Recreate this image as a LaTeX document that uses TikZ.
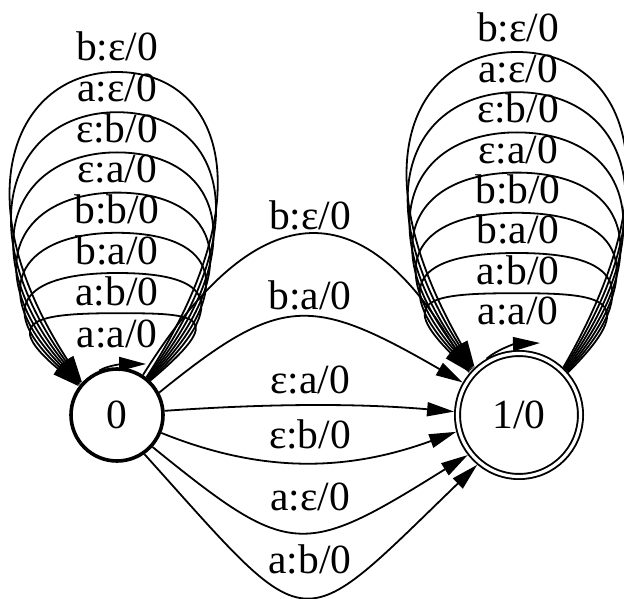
\documentclass[tikz,border=0pt]{standalone}
\usepackage{fontspec}
\setmainfont{Liberation Serif}
\usetikzlibrary{arrows.meta,calc}
\begin{document}
\begin{tikzpicture}[x=1pt,y=1pt,
  lbl/.style={font=\fontsize{41.5}{41.5}\selectfont, inner sep=0pt, anchor=base},
  edge/.style={line width=1.8pt, -{Triangle[length=27pt,width=14pt]}},
  state/.style={circle, draw, inner sep=0pt, font=\fontsize{41.5}{41.5}\selectfont},
]
\useasboundingbox (0,0) rectangle (624,598);
\node[state, line width=3.6pt, minimum size=92pt] (n0) at (117,183) {0};
\node[state, double, line width=1.9pt, double distance=3.2pt, minimum size=123pt, outer sep=3.5pt] (n1) at (519,183) {1/0};

% self loops on 0
\foreach \k in {1,...,7}{
  \pgfmathsetmacro\T{526-40.2*(\k-1)}
  \pgfmathsetmacro\th{57-17/6*(\k-1)}
  \pgfmathsetmacro\d{222-20*(\k-1)}
  \pgfmathsetmacro\w{102-20/6*(\k-1)}
  \pgfmathtruncatemacro\sa{53-\k}
  \pgfmathtruncatemacro\ea{136+\k}
  \draw[edge] (n0.\sa) .. controls +(\th:\d) and ({117+\w},\T) .. (117,\T)
     .. controls ({117-\w},\T) and ($(n0.\ea)+({180-\th}:\d)$) .. (n0.\ea);
}
\coordinate (t0) at (146,234);
\draw[edge] (n0.112) .. controls (108,233) and (125,234) .. (t0);

% self loops on 1/0
\foreach \k in {1,...,7}{
  \pgfmathsetmacro\T{546-40.2*(\k-1)}
  \pgfmathsetmacro\th{60-15/6*(\k-1)}
  \pgfmathsetmacro\d{234-130/6*(\k-1)}
  \pgfmathsetmacro\w{102-15/6*(\k-1)}
  \pgfmathtruncatemacro\sa{48-\k}
  \pgfmathtruncatemacro\ea{132+\k}
  \draw[edge] (n1.\sa) .. controls +(\th:\d) and ({517+\w},\T) .. (517,\T)
     .. controls ({517-\w},\T) and ($(n1.\ea)+({180-\th}:\d)$) .. (n1.\ea);
}
\coordinate (t1) at (540,255);
\draw[edge] (n1.120) .. controls (498,249) and (515,254) .. (t1);

% edges 0 -> 1/0
\draw[edge] (n0.57) .. controls +(58:225) and +(120:205) .. (n1.140);
\draw[edge] (n0.28) .. controls +(39:156) and +(150:176) .. (n1.150);
\draw[edge] (n0.5) .. controls +(4:100) and +(175:100) .. (n1.177);
\draw[edge] (n0.338) .. controls +(-22:107) and +(200:118) .. (n1.195);
\draw[edge] (n0.318) .. controls +(-39:177) and +(212:196) .. (n1.218);
\draw[edge] (n0.305) .. controls +(-48:253) and +(224:254) .. (n1.230);

% labels of loops on 0
\node[lbl] (l1) at (117,537) {b:ε/0};
\node[lbl] (l2) at (117,496) {a:ε/0};
\node[lbl] (l3) at (117,455) {ε:b/0};
\node[lbl] (l4) at (117,415) {ε:a/0};
\node[lbl] (l5) at (117,374) {b:b/0};
\node[lbl] (l6) at (117,333) {b:a/0};
\node[lbl] (l7) at (117,292) {a:b/0};
\node[lbl] (l8) at (117,251) {a:a/0};

% labels of loops on 1/0
\node[lbl] (r1) at (518,556) {b:ε/0};
\node[lbl] (r2) at (518,515.6) {a:ε/0};
\node[lbl] (r3) at (518,475.2) {ε:b/0};
\node[lbl] (r4) at (518,434.8) {ε:a/0};
\node[lbl] (r5) at (518,394.4) {b:b/0};
\node[lbl] (r6) at (518,354) {b:a/0};
\node[lbl] (r7) at (518,313.6) {a:b/0};
\node[lbl] (r8) at (518,273.2) {a:a/0};

% labels of edges 0 -> 1/0
\node[lbl] (m1) at (310,368) {b:ε/0};
\node[lbl] (m2) at (310,288) {b:a/0};
\node[lbl] (m3) at (310,205) {ε:a/0};
\node[lbl] (m4) at (310,150) {ε:b/0};
\node[lbl] (m5) at (310,88) {a:ε/0};
\node[lbl] (m6) at (310,25) {a:b/0};
\end{tikzpicture}
\end{document}
